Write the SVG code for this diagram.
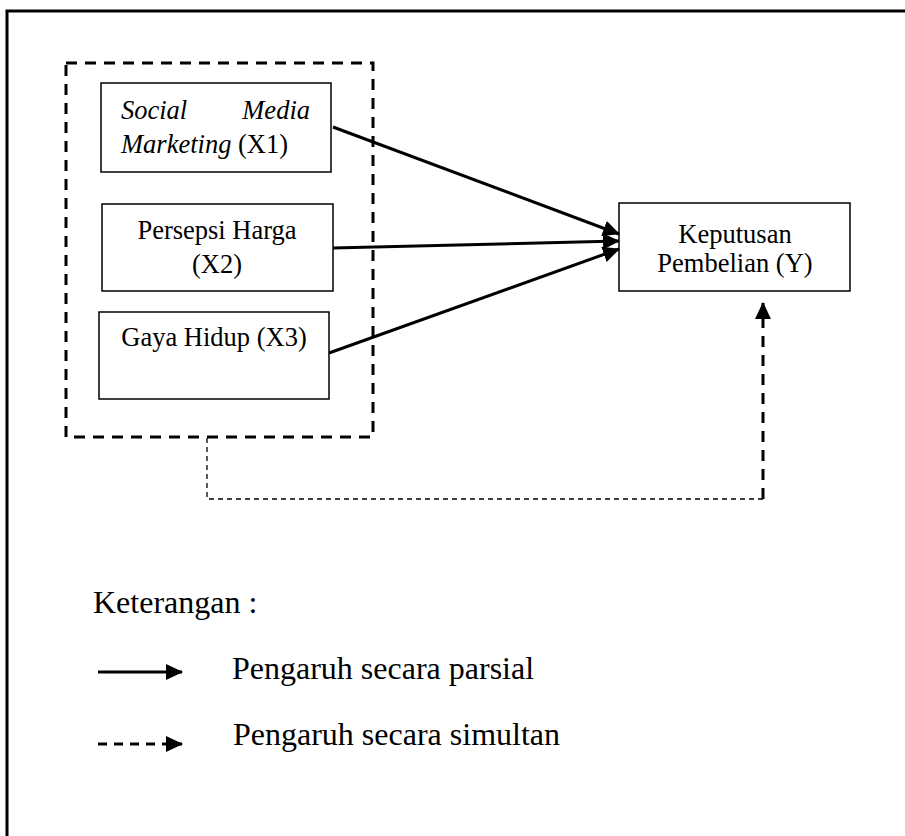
<svg xmlns="http://www.w3.org/2000/svg" width="905" height="836" viewBox="0 0 905 836">
<style>
.box{fill:#fff;stroke:#000;stroke-width:1.5}
.t{font-family:"Liberation Serif","Times New Roman",serif;font-size:26.5px;fill:#000}
.it{font-style:italic}
.lg{font-family:"Liberation Serif","Times New Roman",serif;font-size:32px;fill:#000}
.solid{fill:none;stroke:#000;stroke-width:3}
.dash{fill:none;stroke:#000;stroke-width:3;stroke-dasharray:11 8}
.thin{fill:none;stroke:#000;stroke-width:1.3;stroke-dasharray:5 4}
</style>
<defs>
<marker id="ah2" markerWidth="17" markerHeight="16" refX="16" refY="8" orient="auto" markerUnits="userSpaceOnUse" viewBox="0 0 17 16">
<path d="M0,0 L17,8 L0,16 z" fill="#000"/>
</marker>
</defs>
<rect x="0" y="0" width="905" height="836" fill="#fff"/>
<rect x="7" y="11" width="920" height="900" fill="none" stroke="#000" stroke-width="3"/>

<g id="group-x">
<rect x="66" y="63" width="307" height="374" class="dash"/>
</g>

<g id="node-x1">
<rect x="101" y="83" width="230" height="89" class="box"/>
<text class="t it" x="121" y="119">Social</text>
<text class="t it" x="310" y="119" text-anchor="end">Media</text>
<text class="t" x="121" y="153"><tspan class="it">Marketing</tspan> (X1)</text>
</g>

<g id="node-x2">
<rect x="102" y="204" width="231" height="87" class="box"/>
<text class="t" x="217" y="239" text-anchor="middle">Persepsi Harga</text>
<text class="t" x="217" y="273" text-anchor="middle">(X2)</text>
</g>

<g id="node-x3">
<rect x="99" y="312" width="230" height="87" class="box"/>
<text class="t" x="214" y="346" text-anchor="middle">Gaya Hidup (X3)</text>
</g>

<g id="node-y">
<rect x="619" y="203" width="231" height="88" class="box"/>
<text class="t" x="735" y="243" text-anchor="middle">Keputusan</text>
<text class="t" x="735" y="272" text-anchor="middle">Pembelian (Y)</text>
</g>

<g id="connectors">
<line x1="333" y1="127" x2="619" y2="234" class="solid" marker-end="url(#ah2)"/>
<line x1="333" y1="248" x2="619" y2="241" class="solid" marker-end="url(#ah2)"/>
<line x1="329" y1="353" x2="619" y2="249" class="solid" marker-end="url(#ah2)"/>
<polyline points="207,438 207,499 763,499" class="thin"/>
<line x1="763" y1="499" x2="763" y2="303" class="dash" marker-end="url(#ah2)"/>
</g>

<g id="legend">
<text class="lg" x="93" y="613">Keterangan :</text>
<line x1="98" y1="672" x2="182" y2="672" class="solid" marker-end="url(#ah2)"/>
<text class="lg" x="232" y="679">Pengaruh secara parsial</text>
<line x1="98" y1="744" x2="182" y2="744" stroke="#000" stroke-width="3" stroke-dasharray="9 7" marker-end="url(#ah2)"/>
<text class="lg" x="233" y="745">Pengaruh secara simultan</text>
</g>
</svg>
